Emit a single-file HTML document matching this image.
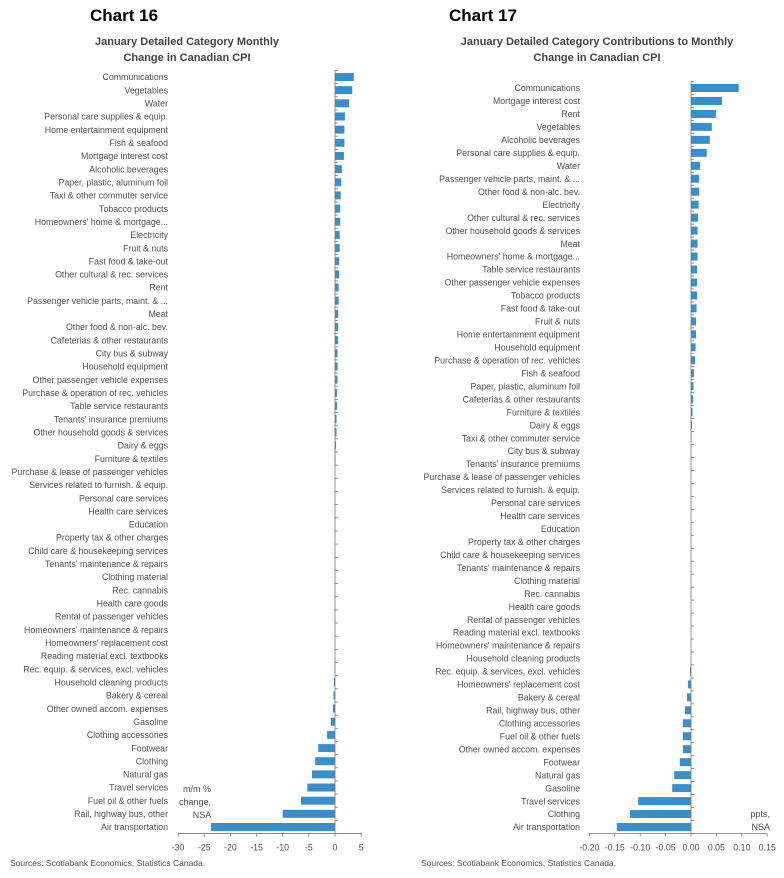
<!DOCTYPE html>
<html><head><meta charset="utf-8"><style>
body{margin:0;background:#fff;width:784px;height:878px;overflow:hidden}
svg{display:block}
text{font-family:"Liberation Sans",sans-serif;fill:#505050}
</style></head><body>
<svg id="s" width="784" height="878" xmlns="http://www.w3.org/2000/svg">
<text x="90" y="21" style="font-size:17px;font-weight:bold;fill:#000">Chart 16</text>
<text x="449" y="21" style="font-size:17px;font-weight:bold;fill:#000">Chart 17</text>
<text x="187" y="45" text-anchor="middle" style="font-size:11px;font-weight:bold;fill:#444">January Detailed Category Monthly</text>
<text x="187" y="61" text-anchor="middle" style="font-size:11px;font-weight:bold;fill:#444">Change in Canadian CPI</text>
<text x="597" y="45" text-anchor="middle" style="font-size:11px;font-weight:bold;fill:#444">January Detailed Category Contributions to Monthly</text>
<text x="597" y="61" text-anchor="middle" style="font-size:11px;font-weight:bold;fill:#444">Change in Canadian CPI</text>
<text x="10" y="866" style="font-size:8.5px">Sources: Scotiabank Economics, Statistics Canada.</text>
<text x="421" y="866" style="font-size:8.5px">Sources: Scotiabank Economics, Statistics Canada.</text>
<text x="197" y="792" text-anchor="middle" style="font-size:9px">m/m %</text>
<text x="195" y="805" text-anchor="middle" style="font-size:9px">change,</text>
<text x="202" y="818" text-anchor="middle" style="font-size:9px">NSA</text>
<text x="770" y="817" text-anchor="end" style="font-size:9px">ppts,</text>
<text x="770" y="830" text-anchor="end" style="font-size:9px">NSA</text>
<g id="g"></g>
</svg>
<script>
var L=[["Communications",3.6],["Vegetables",3.3],["Water",2.7],["Personal care supplies & equip.",1.9],["Home entertainment equipment",1.8],["Fish & seafood",1.8],["Mortgage interest cost",1.7],["Alcoholic beverages",1.3],["Paper, plastic, aluminum foil",1.2],["Taxi & other commuter service",1.1],["Tobacco products",1.0],["Homeowners' home & mortgage...",1.0],["Electricity",0.9],["Fruit & nuts",0.9],["Fast food & take-out",0.8],["Other cultural & rec. services",0.8],["Rent",0.7],["Passenger vehicle parts, maint. & ...",0.7],["Meat",0.6],["Other food & non-alc. bev.",0.6],["Cafeterias & other restaurants",0.6],["City bus & subway",0.5],["Household equipment",0.5],["Other passenger vehicle expenses",0.5],["Purchase & operation of rec. vehicles",0.4],["Table service restaurants",0.4],["Tenants' insurance premiums",0.3],["Other household goods & services",0.3],["Dairy & eggs",0.2],["Furniture & textiles",0.1],["Purchase & lease of passenger vehicles",0],["Services related to furnish. & equip.",0],["Personal care services",0],["Health care services",0],["Education",0],["Property tax & other charges",0],["Child care & housekeeping services",0],["Tenants' maintenance & repairs",0],["Clothing material",0],["Rec. cannabis",0],["Health care goods",0],["Rental of passenger vehicles",0],["Homeowners' maintenance & repairs",0],["Homeowners' replacement cost",0],["Reading material excl. textbooks",0],["Rec. equip. & services, excl. vehicles",-0.1],["Household cleaning products",-0.2],["Bakery & cereal",-0.3],["Other owned accom. expenses",-0.4],["Gasoline",-0.8],["Clothing accessories",-1.5],["Footwear",-3.2],["Clothing",-3.8],["Natural gas",-4.4],["Travel services",-5.3],["Fuel oil & other fuels",-6.5],["Rail, highway bus, other",-10],["Air transportation",-23.7]];
var R=[["Communications",0.094],["Mortgage interest cost",0.061],["Rent",0.049],["Vegetables",0.041],["Alcoholic beverages",0.037],["Personal care supplies & equip.",0.031],["Water",0.018],["Passenger vehicle parts, maint. & ...",0.016],["Other food & non-alc. bev.",0.016],["Electricity",0.015],["Other cultural & rec. services",0.014],["Other household goods & services",0.013],["Meat",0.013],["Homeowners' home & mortgage...",0.013],["Table service restaurants",0.012],["Other passenger vehicle expenses",0.012],["Tobacco products",0.012],["Fast food & take-out",0.011],["Fruit & nuts",0.010],["Home entertainment equipment",0.010],["Household equipment",0.009],["Purchase & operation of rec. vehicles",0.008],["Fish & seafood",0.006],["Paper, plastic, aluminum foil",0.005],["Cafeterias & other restaurants",0.004],["Furniture & textiles",0.003],["Dairy & eggs",0.002],["Taxi & other commuter service",0.001],["City bus & subway",0],["Tenants' insurance premiums",0],["Purchase & lease of passenger vehicles",0],["Services related to furnish. & equip.",0],["Personal care services",0],["Health care services",0],["Education",0],["Property tax & other charges",0],["Child care & housekeeping services",0],["Tenants' maintenance & repairs",0],["Clothing material",0],["Rec. cannabis",0],["Health care goods",0],["Rental of passenger vehicles",0],["Reading material excl. textbooks",0],["Homeowners' maintenance & repairs",0],["Household cleaning products",0],["Rec. equip. & services, excl. vehicles",-0.002],["Homeowners' replacement cost",-0.006],["Bakery & cereal",-0.008],["Rail, highway bus, other",-0.012],["Clothing accessories",-0.016],["Fuel oil & other fuels",-0.016],["Other owned accom. expenses",-0.016],["Footwear",-0.022],["Natural gas",-0.033],["Gasoline",-0.037],["Travel services",-0.104],["Clothing",-0.12],["Air transportation",-0.146]];
var h="";
function esc(s){return s.replace(/&/g,"&amp;").replace(/'/g,"&#39;")}
function chart(D,y0,y1,zero,scale,lx,ax0,ax1,ticks,fmt){
 var n=D.length,st=(y1-y0)/(n-1);
 for(var i=0;i<n;i++){var y=y0+i*st,v=D[i][1],x=zero+Math.min(0,v)*scale,w=Math.abs(v)*scale;
  h+='<text x="'+lx+'" y="'+(y+3.2)+'" text-anchor="end" style="font-size:8.8px">'+esc(D[i][0])+'</text>';
  if(w>0.2)h+='<rect x="'+x+'" y="'+(y-4)+'" width="'+w+'" height="8" fill="#3a8fc9"/>';
 }
 var top=y0-st/2,bot=y1+st/2;
 h+='<line x1="'+zero+'" y1="'+top+'" x2="'+zero+'" y2="'+bot+'" stroke="#777" stroke-width="0.8"/>';
 for(var i=0;i<=n;i++){var y=top+i*st;h+='<line x1="'+zero+'" y1="'+y+'" x2="'+(zero+3)+'" y2="'+y+'" stroke="#777" stroke-width="0.8"/>';}
 h+='<line x1="'+ax0+'" y1="'+bot+'" x2="'+ax1+'" y2="'+bot+'" stroke="#777" stroke-width="0.8"/>';
 ticks.forEach(function(t){var x=zero+t*scale;h+='<line x1="'+x+'" y1="'+bot+'" x2="'+x+'" y2="'+(bot+3)+'" stroke="#777" stroke-width="0.8"/><text x="'+x+'" y="'+(bot+17)+'" text-anchor="middle" style="font-size:8.8px">'+fmt(t)+'</text>';});
}
chart(L,77,827,335,5.23,168,178,362,[-30,-25,-20,-15,-10,-5,0,5],function(t){return t});
chart(R,88,827,691,508,580,589,767,[-0.2,-0.15,-0.1,-0.05,0,0.05,0.1,0.15],function(t){return t.toFixed(2)});
document.getElementById("g").innerHTML=h;
</script>
</body></html>
